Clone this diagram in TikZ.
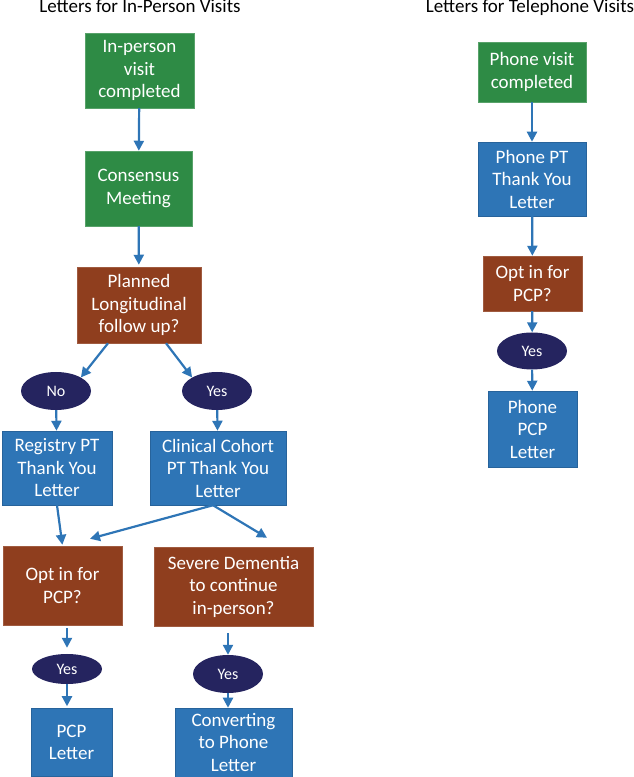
\documentclass[tikz,border=0pt]{standalone}
\usepackage{fontspec}
\setmainfont{Carlito}
\usepackage{tikz}
\usetikzlibrary{arrows.meta,calc,positioning,shapes.geometric}
\definecolor{visitgreen}{HTML}{2E8B45}
\definecolor{letterblue}{HTML}{2E75B6}
\definecolor{askbrown}{HTML}{8F3E1E}
\definecolor{answernavy}{HTML}{25245F}
\tikzset{
  boxbase/.style   = {inner sep=0pt, align=center, text=white,
                      font=\fontsize{19}{22.5}\selectfont},
  startbox/.style  = {boxbase, fill=visitgreen, draw=visitgreen!80!white, line width=0.5pt},
  letterbox/.style = {boxbase, fill=letterblue, draw=letterblue!85!black, line width=0.5pt},
  askbox/.style    = {boxbase, fill=askbrown, draw=askbrown!85!white, line width=0.5pt},
  answer/.style    = {ellipse, inner sep=0pt, fill=answernavy, text=white,
                      font=\fontsize{16}{18}\selectfont},
  flow/.style      = {-{Triangle[length=10pt,width=10pt]}, line width=2.2pt, draw=letterblue},
  heading/.style   = {anchor=base, font=\fontsize{19}{22}\selectfont},
}

\begin{document}
\begin{tikzpicture}[x=1pt,y=1pt]
  \useasboundingbox (0,0) rectangle (633,777);

  % in-person column
  \node[heading] (headA) at (140,764) {Letters for In-Person Visits};
  \node[startbox, minimum width=109, minimum height=75] (visit) at (139.5,706.5)
      {In-person\\visit\\completed};
  \node[startbox, minimum width=107, minimum height=75] (meet) at (138.5,588.5)
      {Consensus\\Meeting};
  \node[askbox, minimum width=124, minimum height=76] (plan) at (139,472)
      {Planned\\Longitudinal\\follow up?};
  \node[answer, minimum width=70, minimum height=38] (no) at (56,386) {No};
  \node[answer, minimum width=70, minimum height=38] (yesA) at (217,386) {Yes};
  \node[letterbox, minimum width=110, minimum height=74] (registry) at (57,309)
      {Registry PT\\Thank You\\Letter};
  \node[letterbox, minimum width=136, minimum height=74] (cohort) at (218,309)
      {Clinical Cohort\\PT Thank You\\Letter};
  \node[askbox, minimum width=119, minimum height=79] (optA) at (62.5,191.5)
      {Opt in for\\PCP?};
  \node[askbox, minimum width=159, minimum height=79] (severe) at (233.5,190.5)
      {Severe Dementia\\to continue\\in-person?};
  \node[answer, minimum width=70, minimum height=30] (yesB) at (67,108) {Yes};
  \node[answer, minimum width=70, minimum height=38] (yesC) at (228,103) {Yes};
  \node[letterbox, minimum width=81, minimum height=68] (pcp) at (71.5,34.5)
      {PCP\\Letter};
  \node[letterbox, minimum width=117, minimum height=69] (convert) at (233.5,34.5)
      {Converting\\to Phone\\Letter};

  % telephone column
  \node[heading] (headB) at (530,764) {Letters for Telephone Visits};
  \node[startbox, minimum width=108, minimum height=60] (phone) at (532,705)
      {Phone visit\\completed};
  \node[letterbox, minimum width=108, minimum height=74] (phonept) at (532,598)
      {Phone PT\\Thank You\\Letter};
  \node[askbox, minimum width=99, minimum height=55] (optP) at (532.5,493.5)
      {Opt in for\\PCP?};
  \node[answer, minimum width=70, minimum height=37] (yesP) at (532,426) {Yes};
  \node[letterbox, minimum width=89, minimum height=76] (phonepcp) at (532.5,348)
      {Phone\\PCP\\Letter};

  \coordinate (split) at ($(cohort.south)+(-5,0)$);
  \coordinate (optIn) at ($(optA.north)+(27.5,7)$);
  \coordinate (sevIn) at ($(severe.north)+(33.5,9)$);

  \draw[flow] (visit) -- (meet);
  \draw[flow, shorten >=2pt] (meet) -- (plan);
  \draw[flow] ($(plan.south)+(-31,0)$) -- (no.north east);
  \draw[flow] ($(plan.south)+(27,0)$) -- (yesA.north west);
  \draw[flow] (no) -- (registry);
  \draw[flow] (yesA) -- (cohort);
  \draw[flow, shorten >=1pt] (registry.south) -- (optA.north);
  \draw[flow] (split) -- (optIn);
  \draw[flow] (split) -- (sevIn);
  \draw[flow, shorten <=3pt, shorten >=6pt] (optA.south -| yesB) -- (yesB.north);
  \draw[flow, shorten >=2pt] (yesB.south) -- (yesB.south |- pcp.north);
  \draw[flow, shorten <=7pt] (severe.south -| yesC) -- (yesC.north);
  \draw[flow] (yesC.south) -- (yesC.south |- convert.north);

  \draw[flow] (phone) -- (phonept);
  \draw[flow] (phonept) -- (optP);
  \draw[flow] (optP) -- (yesP);
  \draw[flow] (yesP) -- (phonepcp);
\end{tikzpicture}
\end{document}
